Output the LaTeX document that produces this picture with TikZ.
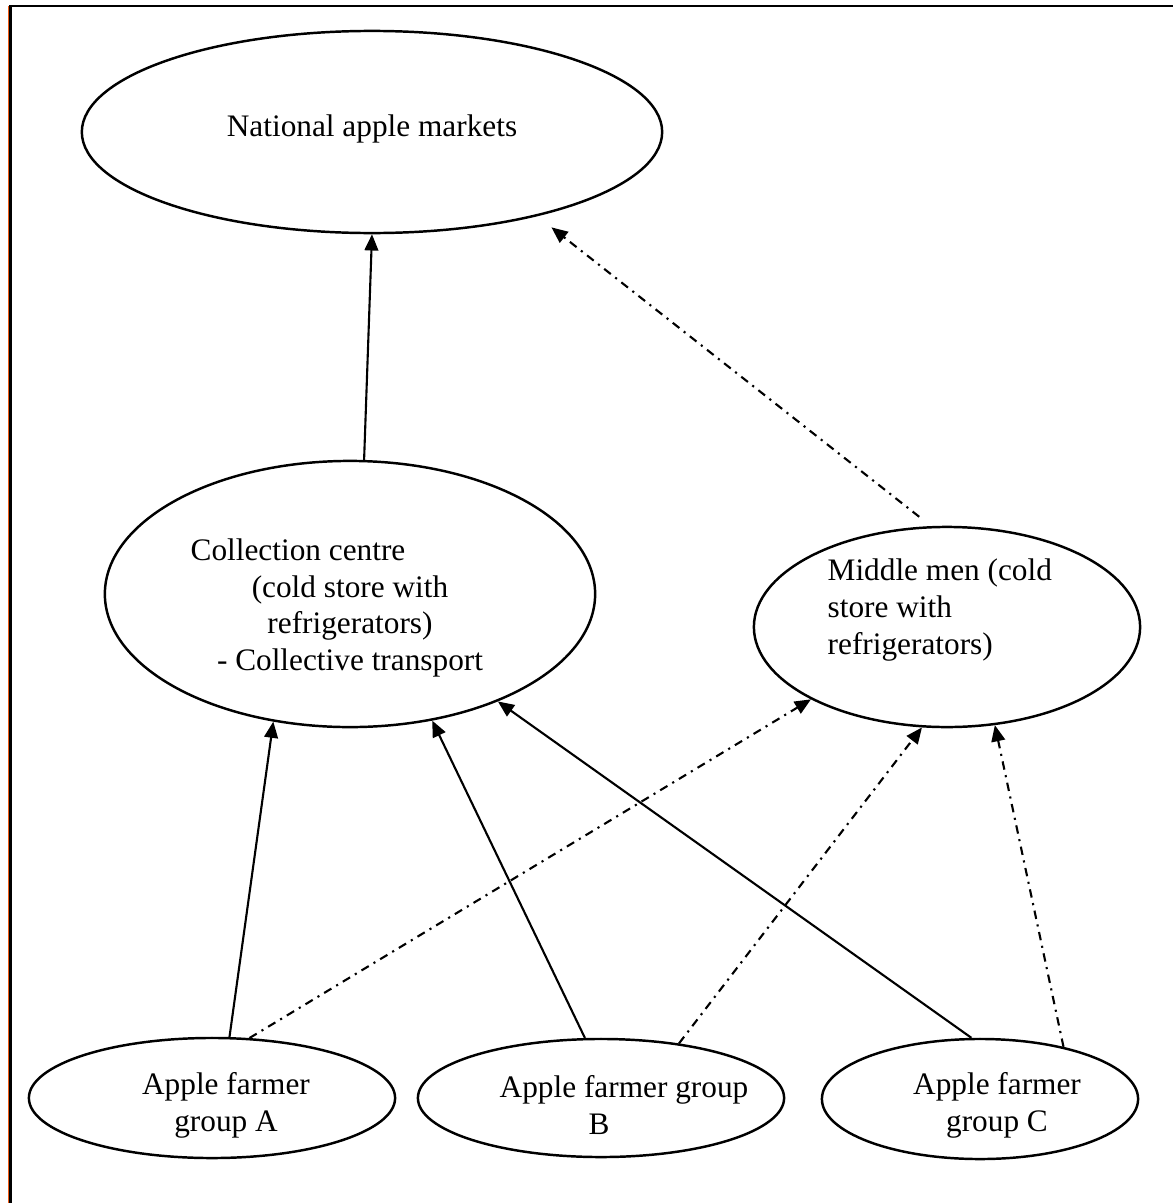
\documentclass[tikz,border=0pt]{standalone}
\usepackage{fontspec}
\setmainfont{Liberation Serif}
\usetikzlibrary{shapes.geometric,arrows.meta}
\definecolor{frameorange}{RGB}{240,90,20}
\tikzset{
  oval/.style={draw,ellipse,line width=0.7pt,inner sep=0pt},
  lbl/.style={inner sep=0pt,font=\fontsize{8.9}{10.5}\selectfont},
  flow/.style={line width=0.6pt,-{Triangle[length=4.6pt,width=3.9pt]}},
  alt/.style={flow,dash pattern=on 2.4pt off 1.6pt on 0.6pt off 1.6pt},
}
\begin{document}
\begin{tikzpicture}[x=0.01cm,y=-0.01cm]
\useasboundingbox (0,0) rectangle (1173,1203);
% frame
\draw[frameorange,line width=0.4pt] (8.3,6) -- (8.3,1203);
\draw[line width=0.8pt] (10.3,6) -- (10.3,1203);
\draw[line width=0.8pt] (9,6) -- (1173,6);
% ellipses
\node[oval,minimum width=5.8cm,minimum height=2.02cm] (nat) at (372,132) {};
\node[oval,minimum width=4.9cm,minimum height=2.66cm] (coll) at (350,594) {};
\node[oval,minimum width=3.86cm,minimum height=2.0cm] (mid) at (947,627) {};
\node[oval,minimum width=3.66cm,minimum height=1.2cm] (fa) at (212,1098) {};
\node[oval,minimum width=3.66cm,minimum height=1.18cm] (fb) at (601,1098) {};
\node[oval,minimum width=3.16cm,minimum height=1.2cm] (fc) at (980,1099) {};
% texts
\node[lbl,anchor=base] (natT) at (372,136) {National apple markets};
\node[lbl,align=center] (collT) at (350,608) {Collection centre\hspace*{1.04cm}\\(cold store with\\refrigerators)\\- Collective transport};
\node[lbl,align=left,anchor=west] (midT) at (827,610) {Middle men (cold\\store with\\refrigerators)};
\node[lbl,align=center] (faT) at (226,1105) {Apple farmer\\group A};
\node[lbl,align=center] (fbT) at (599,1105) {\hspace*{0.5cm}Apple farmer group\\B};
\node[lbl,align=center] (fcT) at (997,1105) {Apple farmer\\group C};
% connectors
\draw[flow] (coll.84.5) -- (nat.270);
\draw[alt,shorten <=0.15cm,shorten >=0.18cm] (mid.99.4) -- (nat.333.8);
\draw[flow] (fa.74.2) -- (coll.239.2);
\draw[flow] (fb.105.4) -- (coll.303.3);
\draw[flow] (fc.98.1) -- (coll.324.4);
\draw[alt] (fa.58.1) -- (mid.208.1);
\draw[alt] (fb.35.3) -- (mid.256.1);
\draw[alt] (fc.32.9) -- (mid.296.3);
\end{tikzpicture}
\end{document}
